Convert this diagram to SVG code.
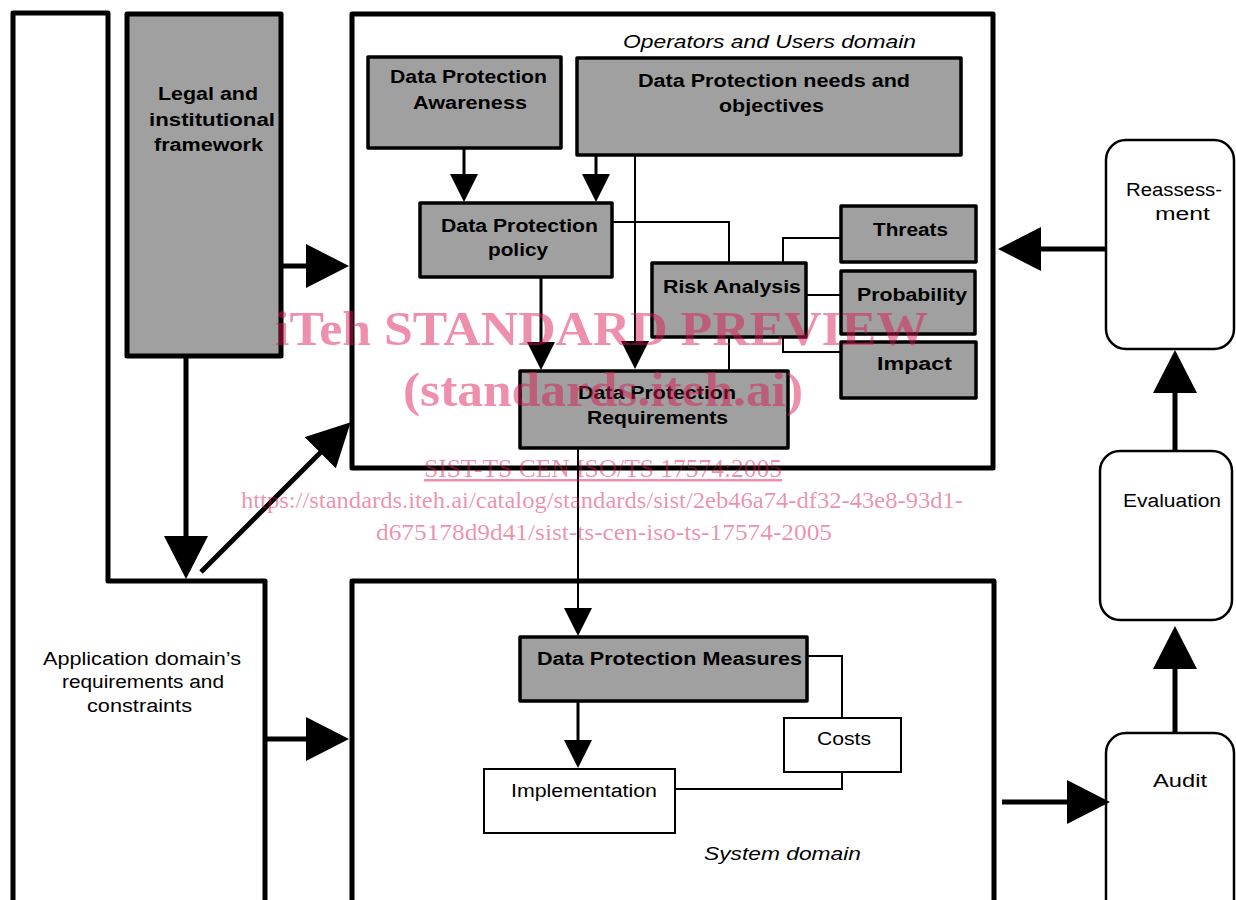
<svg xmlns="http://www.w3.org/2000/svg" width="1236" height="900" viewBox="0 0 1236 900">
  <style>
    .frame { fill: none; stroke: #000; stroke-width: 5; stroke-linejoin: round; }
    .gray { fill: #a0a0a0; stroke: #000; stroke-width: 3.5; stroke-linejoin: round; }
    .legal { fill: #a0a0a0; stroke: #000; stroke-width: 5; stroke-linejoin: round; }
    .white { fill: #fff; stroke: #000; stroke-width: 2; }
    .round { fill: #fff; stroke: #000; stroke-width: 2.5; }
    .lbl { font-family: "Liberation Sans", Arial, sans-serif; font-size: 18px; fill: #000; }
    .b { font-weight: bold; }
    .it { font-style: italic; }
    .thin { fill: none; stroke: #000; stroke-width: 2; }
    .mid { fill: none; stroke: #000; stroke-width: 3; }
    .thick { fill: none; stroke: #000; stroke-width: 5; }
    .wm { font-family: "Liberation Serif", "Times New Roman", serif; fill: #dc1450; fill-opacity: 0.48; }
  </style>
  <defs>
    <marker id="big" markerUnits="userSpaceOnUse" markerWidth="44" markerHeight="44" refX="1" refY="22" orient="auto">
      <path d="M0,0 L43,22 L0,44 z" fill="#000"/>
    </marker>
    <marker id="small" markerUnits="userSpaceOnUse" markerWidth="29" markerHeight="28" refX="1" refY="14" orient="auto">
      <path d="M0,0 L28,14 L0,28 z" fill="#000"/>
    </marker>
  </defs>
  <rect width="1236" height="900" fill="#fff"/>

  <!-- Application domain (L-shaped frame) -->
  <g id="application-domain">
    <path class="frame" d="M13,905 V13 H108 V581 H265 V905"/>
    <text class="lbl" x="43" y="665" textLength="198" lengthAdjust="spacingAndGlyphs">Application domain’s</text>
    <text class="lbl" x="62" y="688" textLength="162" lengthAdjust="spacingAndGlyphs">requirements and</text>
    <text class="lbl" x="87" y="712" textLength="105" lengthAdjust="spacingAndGlyphs">constraints</text>
  </g>

  <!-- Legal and institutional framework -->
  <g id="legal-framework">
    <rect class="legal" x="127" y="14" width="154" height="342"/>
    <text class="lbl b" x="158" y="100" textLength="100" lengthAdjust="spacingAndGlyphs">Legal and</text>
    <text class="lbl b" x="149" y="126" textLength="126" lengthAdjust="spacingAndGlyphs">institutional</text>
    <text class="lbl b" x="154" y="151" textLength="109" lengthAdjust="spacingAndGlyphs">framework</text>
  </g>

  <!-- Operators and Users domain -->
  <g id="operators-domain">
    <rect class="frame" x="352" y="14" width="641" height="454"/>
    <text class="lbl it" x="623" y="48" textLength="293" lengthAdjust="spacingAndGlyphs">Operators and Users domain</text>
  </g>

  <g id="dp-awareness">
    <rect class="gray" x="368" y="57" width="193" height="91"/>
    <text class="lbl b" x="390" y="83" textLength="157" lengthAdjust="spacingAndGlyphs">Data Protection</text>
    <text class="lbl b" x="413" y="109" textLength="114" lengthAdjust="spacingAndGlyphs">Awareness</text>
  </g>

  <g id="dp-needs">
    <rect class="gray" x="577" y="58" width="384" height="97"/>
    <text class="lbl b" x="638" y="87" textLength="272" lengthAdjust="spacingAndGlyphs">Data Protection needs and</text>
    <text class="lbl b" x="719" y="112" textLength="105" lengthAdjust="spacingAndGlyphs">objectives</text>
  </g>

  <g id="dp-policy">
    <rect class="gray" x="420" y="203" width="192" height="74"/>
    <text class="lbl b" x="441" y="232" textLength="157" lengthAdjust="spacingAndGlyphs">Data Protection</text>
    <text class="lbl b" x="488" y="256" textLength="60" lengthAdjust="spacingAndGlyphs">policy</text>
  </g>

  <g id="risk-analysis">
    <rect class="gray" x="652" y="263" width="154" height="74"/>
    <text class="lbl b" x="663" y="293" textLength="138" lengthAdjust="spacingAndGlyphs">Risk Analysis</text>
  </g>

  <g id="threats">
    <rect class="gray" x="841" y="206" width="135" height="56"/>
    <text class="lbl b" x="873" y="236" textLength="75" lengthAdjust="spacingAndGlyphs">Threats</text>
  </g>

  <g id="probability">
    <rect class="gray" x="841" y="271" width="134" height="63"/>
    <text class="lbl b" x="857" y="301" textLength="110" lengthAdjust="spacingAndGlyphs">Probability</text>
  </g>

  <g id="impact">
    <rect class="gray" x="841" y="342" width="135" height="56"/>
    <text class="lbl b" x="877" y="370" textLength="75" lengthAdjust="spacingAndGlyphs">Impact</text>
  </g>

  <g id="dp-requirements">
    <rect class="gray" x="520" y="371" width="268" height="77"/>
    <text class="lbl b" x="578" y="399" textLength="158" lengthAdjust="spacingAndGlyphs">Data Protection</text>
    <text class="lbl b" x="587" y="424" textLength="141" lengthAdjust="spacingAndGlyphs">Requirements</text>
  </g>

  <!-- System domain -->
  <g id="system-domain">
    <rect class="frame" x="352" y="581" width="642" height="330"/>
    <text class="lbl it" x="704" y="860" textLength="157" lengthAdjust="spacingAndGlyphs">System domain</text>
  </g>

  <g id="dp-measures">
    <rect class="gray" x="520" y="637" width="287" height="64"/>
    <text class="lbl b" x="537" y="665" textLength="265" lengthAdjust="spacingAndGlyphs">Data Protection Measures</text>
  </g>

  <g id="implementation">
    <rect class="white" x="484" y="769" width="191" height="64"/>
    <text class="lbl" x="511" y="797" textLength="146" lengthAdjust="spacingAndGlyphs">Implementation</text>
  </g>

  <g id="costs">
    <rect class="white" x="784" y="718" width="117" height="54"/>
    <text class="lbl" x="817" y="745" textLength="54" lengthAdjust="spacingAndGlyphs">Costs</text>
  </g>

  <!-- Review cycle -->
  <g id="reassessment">
    <rect class="round" x="1106" y="140" width="128" height="209" rx="20" ry="20"/>
    <text class="lbl" x="1126" y="196" textLength="96" lengthAdjust="spacingAndGlyphs">Reassess-</text>
    <text class="lbl" x="1155" y="220" textLength="55" lengthAdjust="spacingAndGlyphs">ment</text>
  </g>

  <g id="evaluation">
    <rect class="round" x="1100" y="451" width="132" height="169" rx="20" ry="20"/>
    <text class="lbl" x="1123" y="507" textLength="98" lengthAdjust="spacingAndGlyphs">Evaluation</text>
  </g>

  <g id="audit">
    <rect class="round" x="1106" y="733" width="128" height="190" rx="20" ry="20"/>
    <text class="lbl" x="1153" y="787" textLength="54" lengthAdjust="spacingAndGlyphs">Audit</text>
  </g>

  <!-- Connectors -->
  <g id="connectors">
    <!-- heavy arrows between domains -->
    <path class="thick" d="M282,266 H307" marker-end="url(#big)"/>
    <path class="thick" d="M265,739 H307" marker-end="url(#big)"/>
    <path class="thick" d="M186,357 V537" marker-end="url(#big)"/>
    <path class="thick" d="M201,572 L321,452" marker-end="url(#big)"/>
    <path class="thick" d="M1106,249 H1040" marker-end="url(#big)"/>
    <path class="thick" d="M1175,451 V392" marker-end="url(#big)"/>
    <path class="thick" d="M1175,733 V668" marker-end="url(#big)"/>
    <path class="thick" d="M1002,802 H1068" marker-end="url(#big)"/>

    <!-- arrows inside the domains -->
    <path class="mid" d="M464,148 V175" marker-end="url(#small)"/>
    <path class="mid" d="M596,155 V175" marker-end="url(#small)"/>
    <path class="mid" d="M541,277 V343" marker-end="url(#small)"/>
    <path class="thin" d="M635,155 V342" marker-end="url(#small)"/>
    <path class="thin" d="M578,448 V609" marker-end="url(#small)"/>
    <path class="mid" d="M578,701 V741" marker-end="url(#small)"/>

    <!-- plain links -->
    <path class="thin" d="M612,222 H729 V263"/>
    <path class="thin" d="M729,337 V371"/>
    <path class="thin" d="M783,263 V238 H841"/>
    <path class="thin" d="M806,295 H841"/>
    <path class="thin" d="M783,337 V352 H841"/>
    <path class="thin" d="M807,656 H842 V718"/>
    <path class="thin" d="M842,772 V789 H675"/>
  </g>

  <!-- Preview stamp -->
  <g id="stamp">
    <text class="wm" x="275" y="345" font-size="48" font-weight="bold" textLength="653" lengthAdjust="spacingAndGlyphs">iTeh STANDARD PREVIEW</text>
    <text class="wm" x="403" y="406" font-size="48" font-weight="bold" textLength="400" lengthAdjust="spacingAndGlyphs">(standards.iteh.ai)</text>
    <text class="wm" x="424" y="477" font-size="25" textLength="358" lengthAdjust="spacingAndGlyphs" text-decoration="underline">SIST-TS CEN ISO/TS 17574:2005</text>
    <text class="wm" x="241" y="508" font-size="24" textLength="722" lengthAdjust="spacingAndGlyphs">https://standards.iteh.ai/catalog/standards/sist/2eb46a74-df32-43e8-93d1-</text>
    <text class="wm" x="376" y="540" font-size="24" textLength="456" lengthAdjust="spacingAndGlyphs">d675178d9d41/sist-ts-cen-iso-ts-17574-2005</text>
  </g>
</svg>
